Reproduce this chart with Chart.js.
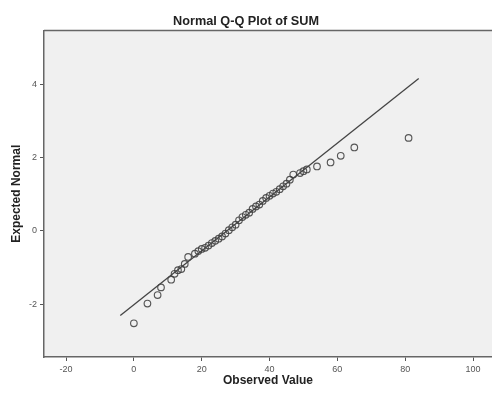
<!DOCTYPE html>
<html>
<head>
<meta charset="utf-8">
<script src="https://cdn.jsdelivr.net/npm/chart.js@4.4.0/dist/chart.umd.min.js"></script>
<style>
  html, body { margin: 0; padding: 0; background: #fff; }
  #wrap { width: 492px; height: 394px; }
</style>
</head>
<body>
<div id="wrap"><canvas id="qq"></canvas></div>
<script>
// observed values (SUM) and their expected normal scores
const observed = [0, 4, 7, 8, 11, 12, 13, 14, 15, 16, 18, 19, 20, 21, 22, 23, 24, 25, 26, 27,
  28, 29, 30, 31, 32, 33, 34, 35, 36, 37, 38, 39, 40, 41, 42, 43, 44, 45, 46, 47,
  49, 50, 51, 54, 58, 61, 65, 81];
const expected = [-2.52, -1.98, -1.75, -1.54, -1.33, -1.17, -1.07, -1.04, -0.90, -0.71,
  -0.62, -0.55, -0.49, -0.46, -0.40, -0.33, -0.27, -0.21, -0.15, -0.07,
  0.02, 0.10, 0.17, 0.29, 0.38, 0.44, 0.50, 0.60, 0.67, 0.72,
  0.82, 0.90, 0.96, 1.02, 1.07, 1.14, 1.22, 1.29, 1.40, 1.54,
  1.58, 1.63, 1.68, 1.76, 1.87, 2.05, 2.28, 2.54];

// reference line end points
const lineX = [-4, 84];
const lineY = [-2.31, 4.16];

const xTicks = [-20, 0, 20, 40, 60, 80, 100];
const yTicks = [-2, 0, 2, 4];

const plotBg = {
  id: "plotBg",
  beforeDraw(chart) {
    const { ctx, chartArea: a } = chart;
    ctx.save();
    ctx.fillStyle = "#f0f0f0";
    ctx.fillRect(a.left, a.top, a.right - a.left, a.bottom - a.top);
    ctx.restore();
  },
  afterDraw(chart) {
    const { ctx, chartArea: a } = chart;
    ctx.save();
    ctx.strokeStyle = "#666";
    ctx.lineWidth = 1.5;
    ctx.beginPath();
    ctx.moveTo(a.left, a.top);
    ctx.lineTo(a.right, a.top);
    ctx.stroke();
    ctx.restore();
  },
};

const tickFont = { family: "Liberation Sans, Arial, sans-serif", size: 9 };
const titleFont = { family: "Liberation Sans, Arial, sans-serif", size: 12, weight: "bold" };

new Chart(document.getElementById("qq"), {
  type: "scatter",
  data: {
    datasets: [
      {
        type: "line",
        data: lineX.map((x, i) => ({ x, y: lineY[i] })),
        borderColor: "#444",
        borderWidth: 1.3,
        pointRadius: 0,
        fill: false,
      },
      {
        data: observed.map((x, i) => ({ x, y: expected[i] })),
        pointStyle: "circle",
        pointRadius: 3.3,
        backgroundColor: "rgba(0,0,0,0)",
        borderColor: "rgba(60,60,60,0.85)",
        borderWidth: 1.15,
      },
    ],
  },
  options: {
    responsive: true,
    maintainAspectRatio: false,
    animation: false,
    layout: { padding: 0, autoPadding: false },
    plugins: {
      legend: { display: false },
      tooltip: { enabled: false },
      title: {
        display: true,
        text: "Normal Q-Q Plot of SUM",
        color: "#222",
        font: { ...titleFont, size: 12.7 },
        padding: { top: 13.5, bottom: 1.8 },
      },
    },
    scales: {
      x: {
        type: "linear",
        min: -26.5,
        max: 105.6,
        afterBuildTicks: (s) => { s.ticks = xTicks.map((v) => ({ value: v })); },
        afterFit: (s) => { s.height = 37; s.paddingRight = 0; s.paddingLeft = 0; },
        grid: { drawOnChartArea: false, drawTicks: true, tickLength: 4, color: "#555", tickWidth: 1 },
        border: { color: "#666", width: 1.5 },
        ticks: { color: "#555", font: tickFont, padding: 3, maxRotation: 0 },
        title: { display: true, text: "Observed Value", color: "#222", font: titleFont, padding: { bottom: 6 } },
      },
      y: {
        type: "linear",
        min: -3.44,
        max: 5.47,
        afterBuildTicks: (s) => { s.ticks = yTicks.map((v) => ({ value: v })); },
        afterFit: (s) => { s.width = 44; s.paddingTop = 0; s.paddingBottom = 0; },
        grid: { drawOnChartArea: false, drawTicks: true, tickLength: 4, color: "#555", tickWidth: 1 },
        border: { color: "#666", width: 1.5 },
        ticks: { color: "#555", font: tickFont, padding: 3 },
        title: { display: true, text: "Expected Normal", color: "#222", font: titleFont, padding: { top: 9 } },
      },
    },
  },
  plugins: [plotBg],
});
</script>
</body>
</html>
